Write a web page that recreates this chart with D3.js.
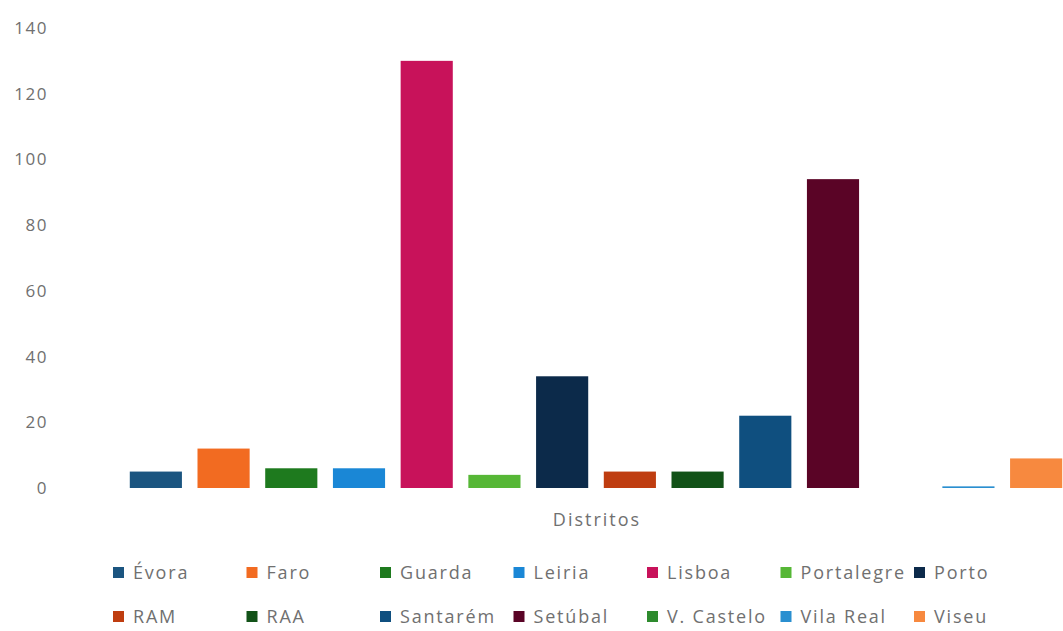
<!DOCTYPE html>
<html>
<head>
<meta charset="utf-8">
<script src="https://cdn.jsdelivr.net/npm/d3@7"></script>
<style>
  body { margin: 0; background: #fff; }
  text { font-family: "Open Sans", "Noto Sans", sans-serif; }
</style>
</head>
<body>
<svg id="chart"></svg>
<script>
const width = 1063;
const height = 631;

// distritos e valores
const districts = ["Évora", "Faro", "Guarda", "Leiria", "Lisboa", "Portalegre", "Porto",
                   "RAM", "RAA", "Santarém", "Setúbal", "V. Castelo", "Vila Real", "Viseu"];
const values = [5, 12, 6, 6, 130, 4, 34, 5, 5, 22, 94, 0, 0.5, 9];
const colors = ["#1b5580", "#f26b21", "#1e7a1e", "#1a87d6", "#c8125a", "#56b736", "#0c2a4a",
                "#bf3d10", "#125218", "#0f4f7f", "#5a0426", "#2e8b2e", "#2a8fd0", "#f7893f"];
const yTicks = [0, 20, 40, 60, 80, 100, 120, 140];
const categoryLabel = "Distritos";

const data = districts.map((d, i) => ({ name: d, value: values[i], color: colors[i] }));

const svg = d3.select("#chart")
    .attr("width", width)
    .attr("height", height);

const x = d3.scaleBand()
    .domain(districts)
    .range([122, 1070])
    .paddingInner(0.23)
    .paddingOuter(0.115);

const y = d3.scaleLinear()
    .domain([0, 140])
    .range([488, 28]);

// eixo y sem linha nem traços
const yAxis = svg.append("g")
    .attr("transform", "translate(50,0)")
    .call(d3.axisLeft(y).tickValues(yTicks).tickSize(0).tickPadding(2));
yAxis.select(".domain").remove();
yAxis.selectAll("text")
    .attr("fill", "#707070")
    .style("font-size", "17px")
    .style("letter-spacing", "1.5px")
    .style("font-family", "'Open Sans', sans-serif");

// barras
svg.append("g")
    .selectAll("rect")
    .data(data)
    .enter()
    .append("rect")
    .attr("x", d => x(d.name))
    .attr("y", d => y(d.value))
    .attr("width", x.bandwidth())
    .attr("height", d => y(0) - y(d.value))
    .attr("fill", d => d.color);

svg.append("text")
    .attr("x", 597)
    .attr("y", 526)
    .attr("text-anchor", "middle")
    .attr("fill", "#707070")
    .style("font-size", "18px")
    .style("letter-spacing", "2px")
    .text(categoryLabel);

// legenda em duas linhas de 7
const legend = svg.append("g")
    .selectAll("g")
    .data(data)
    .enter()
    .append("g")
    .attr("transform", (d, i) => `translate(${113 + (i % 7) * 133.5},${573 + Math.floor(i / 7) * 44})`);

legend.append("rect")
    .attr("x", 0)
    .attr("y", -6)
    .attr("width", 11)
    .attr("height", 11)
    .attr("fill", d => d.color);

legend.append("text")
    .attr("x", 20)
    .attr("y", 0)
    .attr("dy", "0.35em")
    .attr("fill", "#707070")
    .style("font-size", "18px")
    .style("letter-spacing", "1.8px")
    .text(d => d.name);
</script>
</body>
</html>
